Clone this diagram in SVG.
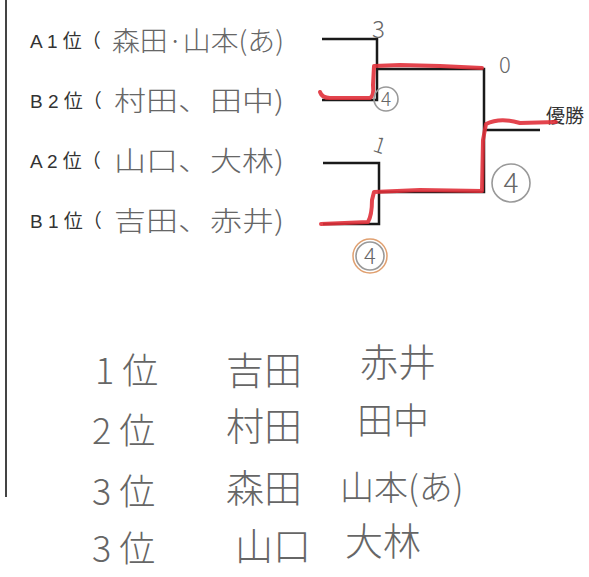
<svg xmlns="http://www.w3.org/2000/svg" width="589" height="577" viewBox="0 0 589 577">
<style>
.lbl{font-family:"Liberation Sans","Noto Sans CJK JP",sans-serif;font-size:19px;fill:#333}
.hw{font-family:"Noto Sans CJK JP",sans-serif;font-weight:300;fill:#666}
.ln{stroke:#1a1a1a;stroke-width:2.5;fill:none}
.red{stroke:#e0303a;stroke-width:4;fill:none;stroke-linecap:round;stroke-linejoin:round;opacity:0.9}
.circ{stroke:#999;stroke-width:1.6;fill:none}
.num{font-family:"Noto Sans CJK JP",sans-serif;font-weight:300;fill:#666}
</style>
<rect width="589" height="577" fill="#fff"/>
<line x1="6" y1="0" x2="6" y2="497" stroke="#444" stroke-width="2"/>
<g id="a1"><text class="lbl" x="30" y="48">A 1 位（</text><text class="hw" x="112" y="51" font-size="27" textLength="172" lengthAdjust="spacingAndGlyphs">森田·山本(あ)</text></g>
<g id="b2"><text class="lbl" x="30" y="108">B 2 位（</text><text class="hw" x="114" y="111" font-size="27" textLength="170" lengthAdjust="spacingAndGlyphs">村田、田中)</text></g>
<g id="a2"><text class="lbl" x="30" y="168">A 2 位（</text><text class="hw" x="114" y="171" font-size="27" textLength="170" lengthAdjust="spacingAndGlyphs">山口、大林)</text></g>
<g id="b1"><text class="lbl" x="30" y="228">B 1 位（</text><text class="hw" x="114" y="231" font-size="27" textLength="170" lengthAdjust="spacingAndGlyphs">吉田、赤井)</text></g>
<g id="win"><text class="lbl" x="546" y="123">優勝</text></g>
<g id="connectors">
<polyline class="ln" points="322,39 377,39 377,100 322,100"/>
<polyline class="ln" points="323,163 379,163 379,224 323,224"/>
<polyline class="ln" points="377,69 484,69 484,192 379,192"/>
<line class="ln" x1="484" y1="130" x2="540" y2="130"/>
<path class="red" d="M320,92 Q322,98 330,98 L370,98 Q374,96 373,85 L374,66 L400,65 L440,66 L482,68"/>
<path class="red" d="M321,224 L368,222 Q372,215 372,200 L374,192 L420,190 L482,191 L483,140 L486,124 Q500,117 520,123 L556,122"/>
</g>
<g id="scores">
<text class="num" x="372" y="38" font-size="24">3</text>
<text class="num" x="499" y="73" font-size="22">0</text>
<text class="num" x="374" y="153" font-size="22" transform="rotate(18 380 145)">1</text>
<circle class="circ" cx="386" cy="99" r="12"/><text class="num" x="386" y="106" font-size="19" text-anchor="middle">4</text>
<circle class="circ" cx="511" cy="183" r="19"/><text class="num" x="511" y="193" font-size="28" text-anchor="middle">4</text>
<circle cx="370" cy="256" r="17" fill="none" stroke="#e0a070" stroke-width="1.5"/><circle class="circ" cx="370" cy="256" r="14" stroke="#888"/><text class="num" x="370" y="264" font-size="22" text-anchor="middle">4</text>
</g>
<g id="ranking">
<text class="hw" x="95" y="384" font-size="36">1 位</text><text class="hw" x="226" y="384" font-size="38">吉田</text><text class="hw" x="360" y="376" font-size="38">赤井</text>
<text class="hw" x="92" y="444" font-size="36">2 位</text><text class="hw" x="226" y="440" font-size="38">村田</text><text class="hw" x="357" y="434" font-size="36">田中</text>
<text class="hw" x="92" y="505" font-size="36">3 位</text><text class="hw" x="226" y="502" font-size="38">森田</text><text class="hw" x="340" y="500" font-size="34">山本(あ)</text>
<text class="hw" x="92" y="562" font-size="36">3 位</text><text class="hw" x="235" y="560" font-size="38">山口</text><text class="hw" x="345" y="555" font-size="38">大林</text>
</g>
</svg>
